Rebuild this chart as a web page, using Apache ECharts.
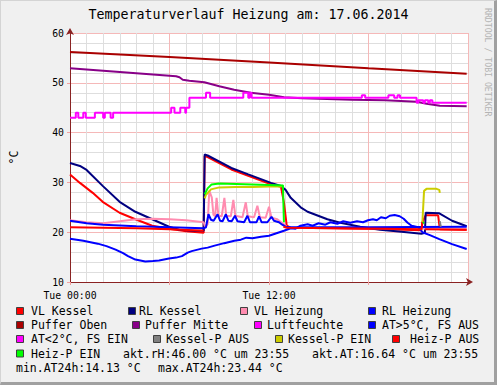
<!DOCTYPE html>
<html><head><meta charset="utf-8">
<script src="https://cdn.jsdelivr.net/npm/echarts@6/dist/echarts.min.js"></script>
<style>
html,body{margin:0;padding:0;background:#F0F0F0;}
#c{position:absolute;left:0;top:0;width:497px;height:385px;}
#f{position:absolute;left:0;top:0;width:497px;height:385px;box-sizing:border-box;border-top:1px solid #D4D4D4;border-left:1px solid #D4D4D4;border-right:3px solid #A0A0A0;border-bottom:3px solid #A0A0A0;pointer-events:none;}
</style></head>
<body><div id="c"></div><div id="f"></div>
<script>
// ---- data (x in hours since Tue 00:00, y in °C / %) ----
const titleText = 'Temperaturverlauf Heizung am: 17.06.2014';
const yAxisName = '°C';
const xTickLabels = {0:'Tue 00:00', 12:'Tue 12:00'};
const seriesNames = ['VL Kessel','RL Kessel','VL Heizung','RL Heizung','Puffer Oben','Puffer Mitte','Luftfeuchte','AT>5°C, FS AUS','AT<2°C, FS EIN','Kessel-P AUS','Kessel-P EIN','Heiz-P AUS','Heiz-P EIN'];
const seriesColors = ['#FF0000','#000080','#FF8CB0','#0000FF','#AA0000','#880088','#FF00FF','#0000FF','#FF00FF','#808080','#CCCC00','#FF0000','#00FF00'];
const infoTexts = ['akt.rH:46.00 °C um 23:55','akt.AT:16.64 °C um 23:55','min.AT24h:14.13 °C','max.AT24h:23.44 °C'];

const vlKessel = [[0,31.6],[0.6,29.9],[1.37,27.9],[1.97,26.1],[2.99,23.9],[3.94,22.6],[4.96,21.3],[5.97,20.7],[7,20.2],[8.06,19.9],[8.12,35.3],[8.3,35.1],[9.73,32.6],[10.75,31.3],[12.12,29.6],[12.72,29.1],[12.9,26.0],[13.07,21.3],[13.3,20.9],[16,20.8],[19,20.6],[21.19,20.4],[21.25,22.0],[21.45,23.4],[22.2,23.4],[22.3,20.6],[23.92,20.5]];
const rlKessel = [[0,33.9],[0.6,33.3],[1.0,32.5],[1.97,29.3],[2.99,26.1],[3.94,24.1],[4.96,22.6],[5.97,21.1],[6.57,20.5],[7.5,20.3],[8.06,20.3],[8.12,35.6],[8.3,35.4],[9.73,32.9],[10.75,31.6],[12.12,29.9],[12.72,29.3],[13.0,28.5],[13.31,26.9],[13.91,25.0],[14.33,24.1],[15.52,22.6],[16.3,21.9],[17.5,21.1],[18.7,20.5],[20.3,20.0],[21.19,19.7],[21.4,19.9],[21.45,23.9],[22.27,23.8],[23.04,22.3],[23.92,21.2]];
const vlHeizung = [[0,22.4],[1,22.0],[2,21.8],[3,22.2],[4,22.6],[5,22.7],[6,22.6],[7,22.4],[8.06,22.0],[8.15,21.0],[8.3,21.6],[8.4,28.3],[8.55,27.0],[8.65,23.5],[8.75,23.2],[8.84,26.9],[8.95,23.3],[9.15,23.2],[9.31,26.9],[9.42,23.3],[9.7,23.2],[9.85,26.5],[9.97,23.3],[10.4,23.0],[10.6,26.0],[10.72,23.2],[11.1,23.0],[11.3,25.3],[11.45,23.0],[11.8,22.9],[12.0,25.1],[12.15,22.9],[12.5,22.6],[12.9,21.6],[13.1,20.9],[18,20.8],[23.92,20.7]];
const rlHeizung = [[0,22.3],[1,21.8],[2,21.5],[4,21.2],[6,21.0],[8.06,20.8],[8.2,21.0],[8.35,23.6],[8.5,22.5],[8.66,22.3],[8.9,23.6],[9.05,22.3],[9.2,22.2],[9.4,23.6],[9.55,22.3],[9.75,22.2],[9.95,23.3],[10.1,22.2],[10.5,22.0],[10.7,23.3],[10.85,22.0],[11.25,22.0],[11.4,23.2],[11.55,22.0],[11.9,22.0],[12.15,23.1],[12.3,22.3],[12.6,22.0],[12.8,21.5],[13.0,21.1],[13.2,21.0],[18,21.0],[23.92,21.1]];
const pufferOben = [[0,56.2],[6,55.2],[12,54.1],[18,52.9],[23.92,51.8]];
const pufferMitte = [[0,52.9],[2,52.4],[4,51.9],[6.4,51.3],[6.6,51.1],[6.8,50.6],[7.2,50.4],[8.1,50.1],[9,49.3],[9.9,48.6],[10.9,48.0],[12,47.6],[12.9,47.1],[14,46.9],[17,46.6],[19,46.5],[20.9,46.2],[21.5,45.8],[22.3,45.4],[23.92,45.3]];
const luftfeuchte = [[0,43],[0.35,44],[0.5,43],[0.8,44],[0.95,43],[1.5,44],[2.0,43],[2.1,44],[2.45,43],[2.6,44],[6.1,45],[6.3,44],[6.65,45],[6.95,44],[7.0,45],[7.2,47],[8.2,48],[8.45,47],[10.45,48],[10.75,47],[10.85,48],[10.95,47],[17.6,47.5],[17.8,47],[19.2,47.5],[19.55,47],[19.75,47.5],[19.9,47],[20.9,46],[21.0,46.5],[21.3,46],[21.4,46.5],[21.6,46],[21.7,46.5],[21.85,46],[23.92,46]];
const atWarm = [[0,18.7],[0.8,18.3],[1.67,17.7],[2.2,17.2],[2.75,16.5],[3.2,15.8],[3.5,15.2],[3.94,14.5],[4.54,14.13],[5.0,14.2],[5.37,14.3],[5.97,14.7],[6.4,14.9],[6.75,15.2],[7.1,15.9],[7.34,16.2],[7.94,16.7],[8.3,16.9],[8.72,17.3],[9.3,17.8],[9.91,18.3],[10.3,18.5],[10.63,18.9],[11.0,18.8],[11.52,19.1],[12.0,19.3],[12.54,19.9],[12.9,20.3],[13.31,20.8],[13.6,20.7],[13.9,21.3],[14.33,21.6],[14.63,21.3],[14.99,21.8],[15.4,21.5],[15.7,22.0],[16.12,21.7],[16.48,22.2],[16.9,21.9],[17.31,22.2],[17.67,22.0],[17.97,22.4],[18.27,22.6],[18.5,22.4],[18.75,23.0],[19.04,22.8],[19.28,23.3],[19.58,23.44],[19.88,23.2],[20.12,22.7],[20.36,21.9],[20.6,21.3],[21.0,21.0],[21.25,20.0],[21.7,19.4],[22.27,18.6],[23.04,17.6],[23.92,16.64]];
const atCold = [];
const kesselPAus = [[22.3,22.2],[22.36,21.1]];
const kesselPEin1 = [[8.12,26.8],[8.2,27.5],[8.5,28.6],[9,29.0],[10,29.1],[11,29.1],[12,29.2],[12.8,29.2]];
const kesselPEin2 = [[21.25,22.0],[21.35,28.3],[21.5,28.7],[22.1,28.7],[22.27,28.5],[22.3,27.9]];
const heizPAus1 = [[0,21.0],[2,20.9],[4,20.8],[6,20.6],[8.06,20.3]];
const heizPAus2 = [[12.87,21.1],[13.1,20.9],[16,20.8],[19,20.7],[21.2,20.6],[21.25,22.0]];
const heizPAus3 = [[21.4,20.6],[23.92,20.5]];
const heizPEin1 = [[8.12,27.6],[8.3,28.8],[8.54,29.6],[9,29.8],[10,29.7],[11,29.6],[12,29.5],[12.84,29.4],[12.9,22.0]];
const heizPEin2 = [[21.27,21.8],[21.36,22.0]];

// ---- layout (style only) ----
const FONT = 'DejaVu Sans Mono';
const rowY = [311,325,339,353.5,367.5];
const legendPos = [[16,31,0],[128,139,0],[240,254,0],[368,382,0],[16,31,1],[132,145,1],[254,267,1],[368,382,1],[16,31,2],[153,166,2],[275,288,2],[392,410,2],[16,31,3]];
const infoPos = [[123,3],[312,3],[16,4],[158,4]];

const chart = echarts.init(document.getElementById('c'), null, {renderer:'svg', width:497, height:385});

function line(data, idx, extra){
  return Object.assign({type:'line', name:seriesNames[idx], data:data, showSymbol:false, symbol:'none',
    lineStyle:{color:seriesColors[idx], width:2}, itemStyle:{color:seriesColors[idx]}, animation:false, z:2+idx}, extra||{});
}

const graphics = [];
graphics.push({type:'text', left:'center', top:8, style:{text:titleText, font:'13.3px "'+FONT+'"', fill:'#000'}});
graphics.push({type:'text', x:488, y:8, rotation:-Math.PI/2, style:{text:'RRDTOOL / TOBI OETIKER', font:'8.2px "'+FONT+'"', fill:'#B4B4B4', textAlign:'left', textVerticalAlign:'middle'}});
legendPos.forEach(function(p,i){
  graphics.push({type:'rect', shape:{x:p[0]+0.5, y:rowY[p[2]]-3.5, width:7, height:7}, style:{fill:seriesColors[i], stroke:'#404040', lineWidth:1}});
  graphics.push({type:'text', x:p[1], y:rowY[p[2]], style:{text:seriesNames[i], font:'11.5px "'+FONT+'"', fill:'#000', textVerticalAlign:'middle'}});
});
infoPos.forEach(function(p,i){
  graphics.push({type:'text', x:p[0], y:rowY[p[1]], style:{text:infoTexts[i], font:'11.5px "'+FONT+'"', fill:'#000', textVerticalAlign:'middle'}});
});

chart.setOption({
  animation:false,
  backgroundColor:'transparent',
  grid:{left:67, top:33, width:401, height:249, show:true, backgroundColor:'#FFFFFF', borderWidth:0},
  xAxis:{type:'value', min:0, max:24, interval:6,
    axisLine:{show:true, lineStyle:{color:'#8A2222', width:1}, symbol:['none','arrow'], symbolSize:[6,7], symbolOffset:[0,5]},
    axisTick:{show:true, length:3, lineStyle:{color:'#F2A0A0'}},
    minorTick:{show:false, splitNumber:6},
    splitLine:{show:true, lineStyle:{color:'#F5B8B8', width:1}},
    minorSplitLine:{show:true, lineStyle:{color:'#DEDEDE', width:1}},
    axisLabel:{margin:8, fontFamily:FONT, fontSize:9.8, color:'#000', showMaxLabel:false,
      formatter:function(v){return xTickLabels[v]||'';}}},
  yAxis:{type:'value', min:10, max:60, interval:10, name:yAxisName, nameLocation:'middle', nameGap:50, nameRotate:90,
    nameTextStyle:{fontFamily:FONT, fontSize:11.5, color:'#000'},
    axisLine:{show:true, lineStyle:{color:'#8A2222', width:1}, symbol:['none','arrow'], symbolSize:[6,7], symbolOffset:[0,5]},
    axisTick:{show:true, length:3, lineStyle:{color:'#F2A0A0'}},
    minorTick:{show:false, splitNumber:5},
    splitLine:{show:true, lineStyle:{color:'#F5B8B8', width:1}},
    minorSplitLine:{show:true, lineStyle:{color:'#DEDEDE', width:1}},
    axisLabel:{margin:6, fontFamily:FONT, fontSize:9.8, color:'#000'}},
  series:[
    line(vlKessel,0), line(rlKessel,1), line(vlHeizung,2), line(rlHeizung,3),
    line(pufferOben,4), line(pufferMitte,5), line(luftfeuchte,6,{step:'end'}),
    line(atWarm,7), line(atCold,8), line(kesselPAus,9), line(kesselPEin1,10), line(kesselPEin2,10),
    line(heizPAus1,11), line(heizPAus2,11), line(heizPAus3,11), line(heizPEin1,12), line(heizPEin2,12)
  ],
  graphic:graphics
});
</script></body></html>
